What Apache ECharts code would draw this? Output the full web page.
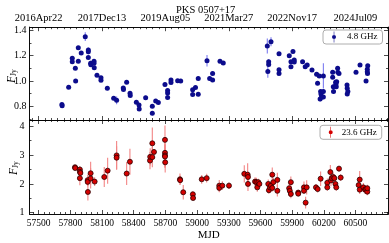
<!DOCTYPE html>
<html><head><meta charset="utf-8">
<script src="https://cdn.jsdelivr.net/npm/echarts@6/dist/echarts.min.js"></script>
<style>html,body{margin:0;padding:0;background:#fff}#c{width:389px;height:243px}</style>
</head><body><div id="c"></div>
<script>
// ---- data ----
const title = 'PKS 0507+17';
const dateTickMJD = [57500, 58100, 58700, 59300, 59900, 60500];
const dateTickLabels = ['2016Apr22', '2017Dec13', '2019Aug05', '2021Mar27', '2022Nov17', '2024Jul09'];
const mjdTicks = [57500, 57800, 58100, 58400, 58700, 59000, 59300, 59600, 59900, 60200, 60500];
const flux48Ticks = [0.8, 1.0, 1.2, 1.4];
const flux236Ticks = [1, 2, 3, 4];
const seriesNames = ['4.8 GHz', '23.6 GHz'];

const mjd48 = [57720,57722,57784,57818,57818,57847,57850,57875,57875,57903,57941,57970,57970,57970,57992,57994,58024,58024,58026,58052,58090,58090,58150,58210,58238,58301,58303,58333,58365,58367,58425,58450,58452,58513,58576,58576,58608,58633,58696,58721,58721,58721,58753,58753,58816,58845,58958,58958,58985,59011,59011,59094,59119,59147,59147,59217,59248,59665,59700,59678,59678,59670,59776,59776,59776,59873,59889,59889,59908,59920,59920,59999,60024,60043,60088,60132,60141,60157,60165,60170,60173,60178,60196,60196,60196,60284,60284,60290,60292,60312,60315,60318,60322,60331,60333,60344,60420,60422,60422,60428,60505,60543,60600,60612,60612,60616,60614];
const flux48 = [0.815,0.805,0.95,1.18,1.152,1.10,1.0,1.262,1.155,1.22,1.35,1.245,1.23,1.185,1.14,1.128,1.155,1.14,1.105,1.045,1.025,1.005,0.942,0.863,0.847,0.945,0.932,0.99,0.903,0.885,0.832,0.81,0.778,0.868,0.80,0.745,0.842,0.83,0.972,0.925,0.905,0.87,1.008,0.988,1.002,1.0,0.93,0.893,0.948,1.02,0.895,1.16,1.02,1.06,1.008,1.155,1.142,1.276,1.31,1.152,1.13,1.075,1.215,1.088,1.06,1.2,1.152,1.113,1.232,1.166,1.15,1.152,1.113,1.126,1.087,1.053,0.982,1.04,0.858,0.916,0.897,0.871,1.04,0.916,0.874,1.068,1.029,0.955,0.916,0.99,0.974,0.955,0.994,1.10,1.068,1.06,0.968,0.942,0.897,0.916,1.068,1.126,1.0,1.092,1.073,1.12,1.06];
const err48 = [0.012,0.012,0.01,0.012,0.01,0.012,0.01,0.012,0.012,0.01,0.035,0.02,0.02,0.015,0.02,0.015,0.012,0.012,0.012,0.01,0.012,0.012,0.015,0.01,0.03,0.012,0.01,0.01,0.012,0.012,0.01,0.01,0.012,0.015,0.012,0.015,0.01,0.01,0.015,0.012,0.01,0.012,0.015,0.01,0.012,0.01,0.012,0.012,0.01,0.015,0.015,0.045,0.01,0.012,0.01,0.01,0.01,0.06,0.035,0.02,0.02,0.05,0.012,0.012,0.012,0.01,0.012,0.012,0.015,0.012,0.012,0.01,0.012,0.01,0.01,0.015,0.015,0.015,0.02,0.015,0.015,0.015,0.1,0.015,0.015,0.012,0.012,0.015,0.015,0.012,0.012,0.012,0.012,0.012,0.012,0.01,0.012,0.015,0.012,0.012,0.012,0.01,0.01,0.012,0.012,0.015,0.012];

const mjd236 = [57844,57846,57890,57890,57895,57890,57964,57964,57966,57992,57992,58030,58121,58153,58238,58238,58333,58364,58554,58556,58576,58576,58592,58696,58696,58696,58696,58698,58838,58840,58869,58960,58962,59044,59091,59210,59210,59239,59302,59447,59479,59482,59482,59549,59562,59570,59580,59590,59674,59680,59690,59700,59712,59712,59722,59760,59760,59872,59878,59888,59888,59958,59958,60012,60012,60028,60038,60126,60142,60170,60233,60233,60262,60268,60275,60290,60300,60310,60318,60344,60360,60530,60540,60540,60575,60590,60600,60612,60612];
const flux236 = [2.58,2.55,2.5,2.42,2.38,2.2,2.13,2.07,1.72,2.37,2.19,2.08,2.24,2.46,2.99,2.91,2.36,2.77,2.81,2.94,3.41,2.93,3.11,3.53,3.08,2.99,2.95,2.75,2.16,2.13,1.71,1.64,1.51,2.16,2.2,1.94,1.86,1.94,1.94,2.35,2.32,2.24,2.0,2.08,2.06,1.88,2.06,2.0,2.0,1.78,1.88,1.94,1.86,2.32,2.06,2.14,1.76,1.85,1.76,2.06,1.65,1.7,1.66,1.88,1.76,1.35,1.88,1.88,1.82,2.18,2.04,1.88,2.41,2.12,2.2,2.24,2.2,2.0,1.88,2.53,2.22,1.96,2.15,1.8,1.88,1.8,1.82,1.73,1.85];
const err236 = [0.07,0.06,0.12,0.1,0.1,0.25,0.2,0.15,0.3,0.4,0.35,0.15,0.35,0.45,0.5,0.4,0.4,0.45,0.3,0.3,0.55,0.35,0.1,0.5,0.45,0.4,0.4,0.35,0.2,0.15,0.25,0.1,0.08,0.15,0.15,0.2,0.15,0.15,0.12,0.3,0.4,0.2,0.25,0.15,0.15,0.15,0.12,0.1,0.15,0.12,0.15,0.15,0.12,0.25,0.15,0.25,0.2,0.15,0.2,0.2,0.15,0.05,0.05,0.2,0.1,0.2,0.25,0.12,0.12,0.25,0.15,0.12,0.25,0.2,0.15,0.15,0.12,0.15,0.12,0.1,0.12,0.15,0.3,0.15,0.15,0.15,0.1,0.12,0.12];

// ---- layout / style ----
const FONT = 'Liberation Serif';
const X_MIN = 57413, X_MAX = 60808;
const Y1_MIN = 0.692, Y1_MAX = 1.4245;
const Y2_MIN = 0.955, Y2_MAX = 4.22;
const G_LEFT = 29.5, G_RIGHT = 1;
const G1_TOP = 27.2, G1_H = 92.8, G2_TOP = 120, G2_H = 94;

function steps(a, b, s) { const r = []; for (let v = a; v <= b + 1e-9; v += s) r.push(+v.toFixed(4)); return r; }
const minorDate = steps(57440, 60800, 60).filter(v => dateTickMJD.indexOf(v) < 0);
const minorMjd = steps(57450, 60800, 50).filter(v => mjdTicks.indexOf(v) < 0);
const minorY1 = [0.7, 0.9, 1.1, 1.3];
const minorY2 = [1.5, 2.5, 3.5];

const lineStyle = { color: '#000', width: 0.8 };
function xAx(grid, pos, ticks, len, opts) {
  return Object.assign({
    type: 'value', gridIndex: grid, position: pos, min: X_MIN, max: X_MAX,
    axisLine: { show: true, onZero: false, lineStyle },
    axisTick: { show: true, inside: true, length: len, customValues: ticks, lineStyle: { color: '#000', width: 0.7 } },
    axisLabel: { show: false }, splitLine: { show: false }
  }, opts || {});
}
function yAx(grid, pos, min, max, ticks, len, opts) {
  return Object.assign({
    type: 'value', gridIndex: grid, position: pos, min, max,
    axisLine: { show: true, onZero: false, lineStyle },
    axisTick: { show: true, inside: true, length: len, customValues: ticks, lineStyle: { color: '#000', width: 0.7 } },
    axisLabel: { show: false }, splitLine: { show: false }
  }, opts || {});
}
const labelStyle = { color: '#000', fontFamily: FONT, fontSize: 10 };

const xAxes = [
  xAx(0, 'bottom', dateTickMJD, 4),
  xAx(0, 'top', dateTickMJD, 4, { axisLabel: Object.assign({ show: true, customValues: dateTickMJD, margin: 3,
      formatter: v => dateTickLabels[dateTickMJD.indexOf(v)] }, labelStyle, { fontSize: 10.5 }) }),
  xAx(0, 'bottom', minorDate, 2),
  xAx(0, 'top', minorDate, 2),
  xAx(1, 'bottom', mjdTicks, 4, { axisLabel: Object.assign({ show: true, customValues: mjdTicks, margin: 4,
      formatter: v => String(Math.round(v)) }, labelStyle, { fontSize: 9.5 }),
      name: 'MJD', nameLocation: 'middle', nameGap: 16, nameTextStyle: { color: '#000', fontFamily: FONT, fontSize: 11 } }),
  xAx(1, 'top', dateTickMJD, 4),
  xAx(1, 'bottom', minorMjd, 2),
  xAx(1, 'top', minorDate, 2)
];
const yAxes = [
  yAx(0, 'left', Y1_MIN, Y1_MAX, flux48Ticks, 4, { axisLabel: Object.assign({ show: true, customValues: flux48Ticks, margin: 3,
      formatter: v => v.toFixed(1) }, labelStyle) }),
  yAx(0, 'right', Y1_MIN, Y1_MAX, flux48Ticks, 4),
  yAx(0, 'left', Y1_MIN, Y1_MAX, minorY1, 2),
  yAx(0, 'right', Y1_MIN, Y1_MAX, minorY1, 2),
  yAx(1, 'left', Y2_MIN, Y2_MAX, flux236Ticks, 4, { axisLabel: Object.assign({ show: true, customValues: flux236Ticks, margin: 5 }, labelStyle) }),
  yAx(1, 'right', Y2_MIN, Y2_MAX, flux236Ticks, 4),
  yAx(1, 'left', Y2_MIN, Y2_MAX, minorY2, 2),
  yAx(1, 'right', Y2_MIN, Y2_MAX, minorY2, 2)
];

const d48 = mjd48.map((m, i) => [m, flux48[i], err48[i]]);
const d236 = mjd236.map((m, i) => [m, flux236[i], err236[i]]);

function errSeries(data, xi, yi, color) {
  return {
    type: 'custom', xAxisIndex: xi, yAxisIndex: yi, data, silent: true, z: 2,
    encode: { x: 0, y: 1 },
    renderItem: (params, api) => {
      const x = api.value(0), y = api.value(1), e = api.value(2);
      const p1 = api.coord([x, y - e]), p2 = api.coord([x, y + e]);
      return { type: 'line', shape: { x1: p1[0], y1: p1[1], x2: p2[0], y2: p2[1] },
        style: { stroke: color, lineWidth: 1.1 } };
    }
  };
}
const ICON = 'path://M2.7,0H3.3V12H2.7Z M3,3.8A2.2,2.2,0,1,1,3,8.2A2.2,2.2,0,1,1,3,3.8Z';

const option = {
  animation: false,
  backgroundColor: '#fff',
  title: { text: title, left: 171, top: 0, textStyle: { fontFamily: FONT, fontSize: 10.5, fontWeight: 'normal', color: '#000' } },
  grid: [
    { left: G_LEFT, right: G_RIGHT, top: G1_TOP, height: G1_H },
    { left: G_LEFT, right: G_RIGHT, top: G2_TOP, height: G2_H }
  ],
  xAxis: xAxes,
  yAxis: yAxes,
  legend: [
    { data: [seriesNames[0]], left: 323, top: 30, orient: 'vertical', icon: ICON, itemWidth: 6, itemHeight: 11,
      padding: [1.5, 5, 1.5, 9], borderColor: '#999', borderWidth: 0.8, borderRadius: 3, backgroundColor: '#fff',
      itemStyle: { color: '#0c0c8c', borderWidth: 0 },
      textStyle: { fontFamily: FONT, fontSize: 9, color: '#000', padding: [0, 0, 0, 5] } },
    { data: [seriesNames[1]], left: 320, top: 125.3, orient: 'vertical', icon: ICON, itemWidth: 6, itemHeight: 11,
      padding: [1.5, 5, 1.5, 8.7], borderColor: '#999', borderWidth: 0.8, borderRadius: 3, backgroundColor: '#fff',
      itemStyle: { color: '#d50000', borderWidth: 0 },
      textStyle: { fontFamily: FONT, fontSize: 9, color: '#000', padding: [0, 0, 0, 3] } }
  ],
  graphic: [
    { type: 'text', x: 5, y: 83, rotation: Math.PI / 2, style: { text: '{f|F}{s|Jy}', rich: {
        f: { fontFamily: FONT, fontStyle: 'italic', fontSize: 11.5, fill: '#000' },
        s: { fontFamily: FONT, fontSize: 7.5, fill: '#000', padding: [5, 0, 0, 0] } } } },
    { type: 'text', x: 7, y: 175, rotation: Math.PI / 2, style: { text: '{f|F}{s|Jy}', rich: {
        f: { fontFamily: FONT, fontStyle: 'italic', fontSize: 11.5, fill: '#000' },
        s: { fontFamily: FONT, fontSize: 7.5, fill: '#000', padding: [5, 0, 0, 0] } } } }
  ],
  series: [
    errSeries(d48, 0, 0, '#7b7bf0'),
    { name: seriesNames[0], type: 'scatter', xAxisIndex: 0, yAxisIndex: 0, data: d48, symbol: 'circle', symbolSize: 5, z: 3,
      itemStyle: { color: '#0c0c8c', opacity: 1 } },
    errSeries(d236, 4, 4, '#f38585'),
    { name: seriesNames[1], type: 'scatter', xAxisIndex: 4, yAxisIndex: 4, data: d236, symbol: 'circle', symbolSize: 5, z: 3,
      itemStyle: { color: '#d50000', borderColor: '#2a0000', borderWidth: 0.8, opacity: 1 } }
  ]
};
const chart = echarts.init(document.getElementById('c'), null, { renderer: 'canvas' });
chart.setOption(option);
</script></body></html>
